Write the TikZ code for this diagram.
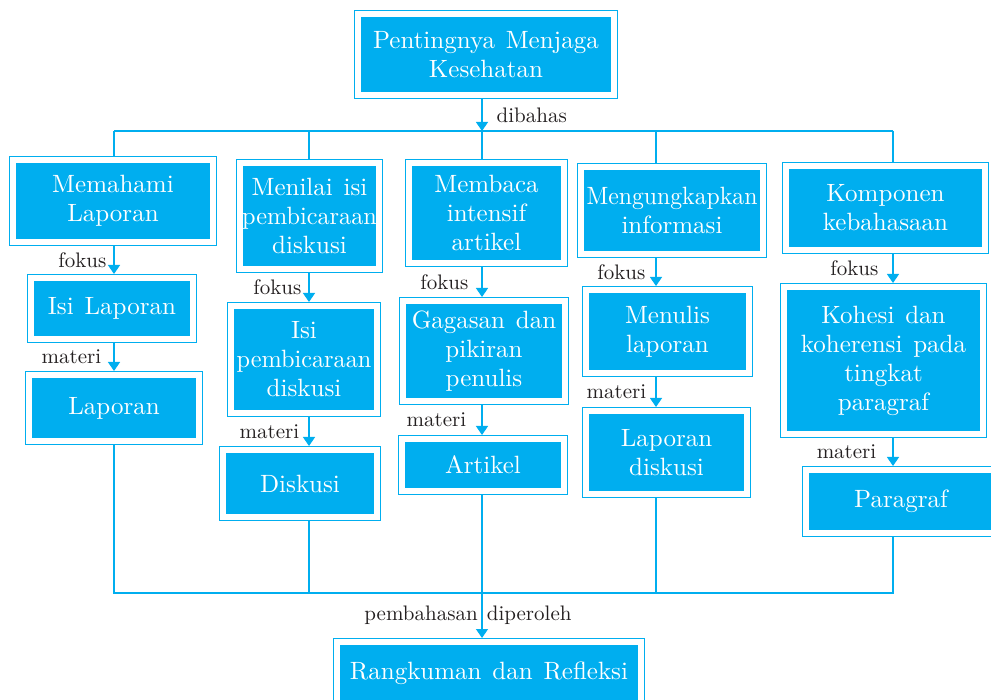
\documentclass[tikz,border=0pt]{standalone}
\usepackage{fontspec}
\setmainfont{lmroman10-regular}[Extension=.otf,WordSpace=1.3]
\usetikzlibrary{arrows.meta}
\definecolor{biru}{HTML}{00AEEF}
\definecolor{teks}{HTML}{231F20}

\begin{document}
\begin{tikzpicture}[x=1pt,y=-1pt,
  kotak/.style={draw=biru,double=white,double distance=5.6pt,line width=1.4pt,
    fill=biru,text=white,align=center,inner sep=0pt,outer sep=4.2pt,
    font=\fontsize{25}{29}\selectfont},
  garis/.style={draw=biru,line width=1.4pt},
  panah/.style={garis,-{Triangle[width=12pt,length=9pt]}},
  ket/.style={text=teks,inner sep=0pt,font=\fontsize{21}{24}\selectfont}]
\useasboundingbox (0,0) rectangle (991,700);
\clip (0,0) rectangle (991,700);
\node[kotak,minimum width=255.6,minimum height=80.6] (top) at (486,54.5) {Pentingnya Menjaga\\Kesehatan};
\node[kotak,minimum width=199.6,minimum height=81.6] (a1) at (113,201) {Memahami\\Laporan};
\node[kotak,minimum width=161.6,minimum height=60.6] (a2) at (112,308.5) {Isi Laporan};
\node[kotak,minimum width=169.6,minimum height=65.6] (a3) at (114,408) {Laporan};
\node[kotak,minimum width=138.6,minimum height=105.6] (b1) at (309.5,216) {Menilai isi\\\scalebox{0.97}[1]{pembicaraan}\\diskusi};
\node[kotak,minimum width=145.6,minimum height=106.6] (b2) at (304,359.5) {Isi\\\scalebox{0.97}[1]{pembicaraan}\\diskusi};
\node[kotak,minimum width=153.6,minimum height=66.6] (b3) at (300,483.5) {Diskusi};
\node[kotak,minimum width=154.6,minimum height=99.6] (c1) at (486.5,213) {Membaca\\intensif\\artikel};
\node[kotak,minimum width=161.6,minimum height=99.6] (c2) at (484,351) {Gagasan dan\\pikiran\\penulis};
\node[kotak,minimum width=161.6,minimum height=51.6] (c3) at (483,465) {Artikel};
\node[kotak,minimum width=181.6,minimum height=86.6] (d1) at (672,210.5) {\scalebox{0.95}[1]{Mengungkapkan}\\informasi};
\node[kotak,minimum width=162.6,minimum height=82.6] (d2) at (667.5,331.5) {Menulis\\laporan};
\node[kotak,minimum width=160.6,minimum height=82.6] (d3) at (666.5,452.5) {Laporan\\diskusi};
\node[kotak,minimum width=198.6,minimum height=83.6] (e1) at (885.5,208) {Komponen\\kebahasaan};
\node[kotak,minimum width=198.6,minimum height=146.6] (e2) at (883.5,360.5) {Kohesi dan\\koherensi pada\\tingkat\\paragraf};
\node[kotak,minimum width=189.6,minimum height=62.6] (e3) at (901,501.5) {Paragraf};
\node[kotak,minimum width=303.6,minimum height=61.6] (f) at (489,673) {Rangkuman dan Refleksi};
\coordinate (k1) at (114,131);
\coordinate (k2) at (309,131);
\coordinate (k3) at (482,131);
\coordinate (k4) at (656,131);
\coordinate (k5) at (893,131);
\coordinate (j1) at (114,593);
\coordinate (j5) at (893,593);
\draw[panah] (top.south -| k3) -- node[ket,right=14pt] {dibahas} (k3);
\draw[garis] (k1) -- (k5);
\foreach \k/\n in {k1/a1,k2/b1,k3/c1,k4/d1,k5/e1}
  \draw[garis] (\k) -- (\n.north -| \k);
\draw[panah] (a1.south -| k1) -- node[ket,left=7pt] {fokus} (a2.north -| k1);
\draw[panah] (a2.south -| k1) -- node[ket,left=12pt] {materi} (a3.north -| k1);
\draw[panah] (b1.south -| k2) -- node[ket,left=7pt] {fokus} (b2.north -| k2);
\draw[panah] (b2.south -| k2) -- node[ket,left=9pt] {materi} (b3.north -| k2);
\draw[panah] (c1.south -| k3) -- node[ket,left=13pt] {fokus} (c2.north -| k3);
\draw[panah] (c2.south -| k3) -- node[ket,left=15pt] {materi} (c3.north -| k3);
\draw[panah] (d1.south -| k4) -- node[ket,left=10pt] {fokus} (d2.north -| k4);
\draw[panah] (d2.south -| k4) -- node[ket,left=9pt] {materi} (d3.north -| k4);
\draw[panah] (e1.south -| k5) -- node[ket,left=14pt] {fokus} (e2.north -| k5);
\draw[panah] (e2.south -| k5) -- node[ket,left=16pt] {materi} (e3.north -| k5);
\draw[garis] (a3.south -| k1) -- (j1) -- (j5) -- (e3.south -| k5);
\draw[garis] (b3.south -| k2) -- (k2 |- j1);
\draw[garis] (d3.south -| k4) -- (k4 |- j1);
\draw[garis] (c3.south -| k3) -- (k3 |- j1);
\draw[panah] (k3 |- j1) -- node[ket,xshift=-14pt] {pembahasan diperoleh} (f.north -| k3);
\end{tikzpicture}
\end{document}
